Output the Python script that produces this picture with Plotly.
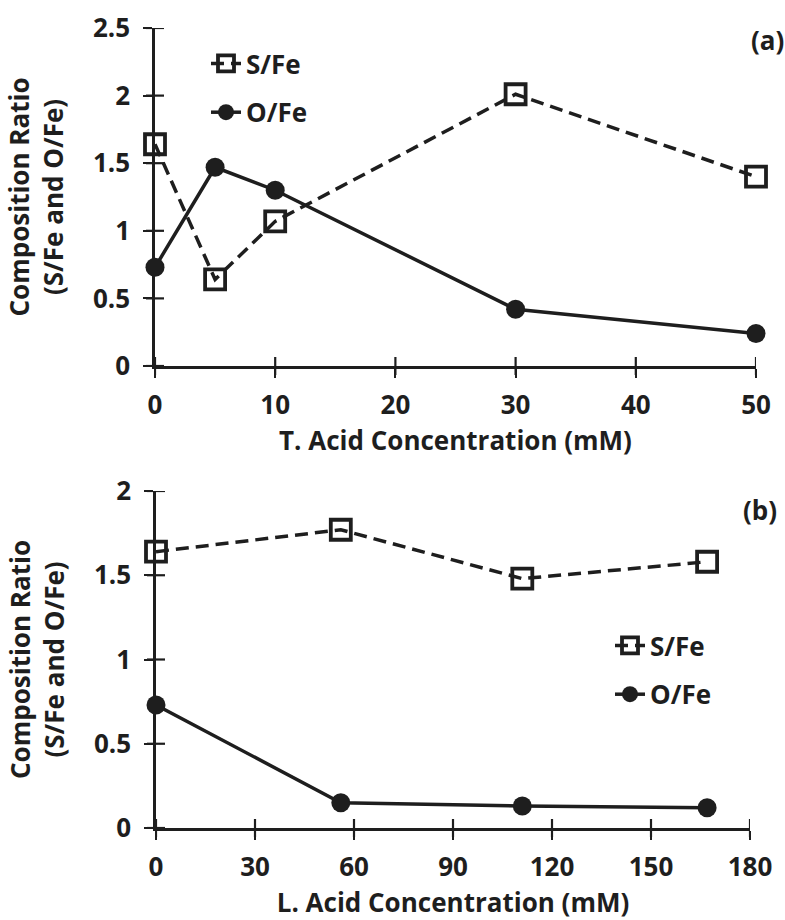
import plotly.graph_objects as go

# (a) T. acid series
t_conc = [0, 5, 10, 30, 50]
t_s_fe = [1.64, 0.64, 1.07, 2.01, 1.40]
t_o_fe = [0.73, 1.47, 1.30, 0.42, 0.24]

# (b) L. acid series
l_conc = [0, 56, 111, 167]
l_s_fe = [1.64, 1.77, 1.48, 1.58]
l_o_fe = [0.73, 0.15, 0.13, 0.12]

top_xticks = [0, 10, 20, 30, 40, 50]
top_yticks = [0, 0.5, 1, 1.5, 2, 2.5]
bot_xticks = [0, 30, 60, 90, 120, 150, 180]
bot_yticks = [0, 0.5, 1, 1.5, 2]

INK = "#1e1e1e"
FONT = dict(family="Open Sans", size=26, color=INK, weight="bold")

fig = go.Figure()


def add_pair(x, s, o, xa, ya, legend, grp):
    fig.add_trace(go.Scatter(
        x=x, y=s, name="S/Fe", mode="lines+markers", xaxis=xa, yaxis=ya,
        legend=legend, legendgroup=grp + "s", cliponaxis=False,
        line=dict(color=INK, width=3.5, dash="13px,7px"),
        marker=dict(symbol="square-open", size=20, color=INK,
                    line=dict(width=3.8, color=INK)),
    ))
    fig.add_trace(go.Scatter(
        x=x, y=o, name="O/Fe", mode="lines+markers", xaxis=xa, yaxis=ya,
        legend=legend, legendgroup=grp + "o", cliponaxis=False,
        line=dict(color=INK, width=3.5),
        marker=dict(symbol="circle", size=19, color=INK),
    ))


add_pair(t_conc, t_s_fe, t_o_fe, "x", "y", "legend", "a")
add_pair(l_conc, l_s_fe, l_o_fe, "x2", "y2", "legend2", "b")

# tick marks that cross the axis line (half inside, half outside)
TL = 9
shapes = []


def cross_ticks(xvals, yvals, xa, ya):
    for v in xvals:
        shapes.append(dict(type="line", xref=xa, yref=ya + " domain",
                           x0=v, x1=v, ysizemode="pixel", yanchor=0, y0=-TL, y1=TL,
                           line=dict(color=INK, width=2.2)))
    for v in yvals:
        shapes.append(dict(type="line", yref=ya, xref=xa + " domain",
                           y0=v, y1=v, xsizemode="pixel", xanchor=0, x0=-TL, x1=TL,
                           line=dict(color=INK, width=2.2)))


cross_ticks(top_xticks, top_yticks, "x", "y")
cross_ticks(bot_xticks, bot_yticks, "x2", "y2")

base = dict(showline=True, linewidth=2.5, linecolor=INK, showgrid=False,
            zeroline=False, ticks="outside", ticklen=TL, tickwidth=2.2,
            tickcolor=INK, tickfont=FONT, tickmode="array")

top_dom_y = [(920 - 366) / 920, (920 - 28) / 920]
bot_dom_y = [(920 - 828) / 920, (920 - 491) / 920]
top_dom_x = [155 / 785, 756 / 785]
bot_dom_x = [156 / 785, 750 / 785]

ytitle = dict(text="Composition Ratio<br>(S/Fe and O/Fe)", font=FONT, standoff=22)

fig.update_layout(
    width=785, height=920,
    margin=dict(l=0, r=0, t=0, b=0, autoexpand=False),
    paper_bgcolor="white", plot_bgcolor="white", font=FONT,
    xaxis=dict(base, domain=top_dom_x, anchor="y", range=[0, 50], tickvals=top_xticks,
               title=dict(text="T. Acid Concentration (mM)", font=FONT, standoff=2),
               ticklabelstandoff=5),
    yaxis=dict(base, domain=top_dom_y, anchor="x", range=[0, 2.5], tickvals=top_yticks,
               title=ytitle, ticklabelstandoff=8),
    xaxis2=dict(base, domain=bot_dom_x, anchor="y2", range=[0, 180], tickvals=bot_xticks,
                title=dict(text="L. Acid Concentration (mM)", font=FONT, standoff=2),
                ticklabelstandoff=5),
    yaxis2=dict(base, domain=bot_dom_y, anchor="x2", range=[0, 2], tickvals=bot_yticks,
                title=ytitle, ticklabelstandoff=8),
    shapes=shapes,
    legend=dict(x=206 / 785, y=(920 - 40) / 920, xanchor="left", yanchor="top",
                font=FONT, bgcolor="rgba(0,0,0,0)", traceorder="grouped",
                tracegroupgap=12, itemwidth=30),
    legend2=dict(x=610 / 785, y=(920 - 622) / 920, xanchor="left", yanchor="top",
                 font=FONT, bgcolor="rgba(0,0,0,0)", traceorder="grouped",
                 tracegroupgap=12, itemwidth=30),
    annotations=[
        dict(text="(a)", x=767 / 785, y=(920 - 40) / 920, xref="paper", yref="paper",
             showarrow=False, font=FONT, xanchor="center", yanchor="middle"),
        dict(text="(b)", x=760 / 785, y=(920 - 510) / 920, xref="paper", yref="paper",
             showarrow=False, font=FONT, xanchor="center", yanchor="middle"),
    ],
)

fig.write_html("out.html")
